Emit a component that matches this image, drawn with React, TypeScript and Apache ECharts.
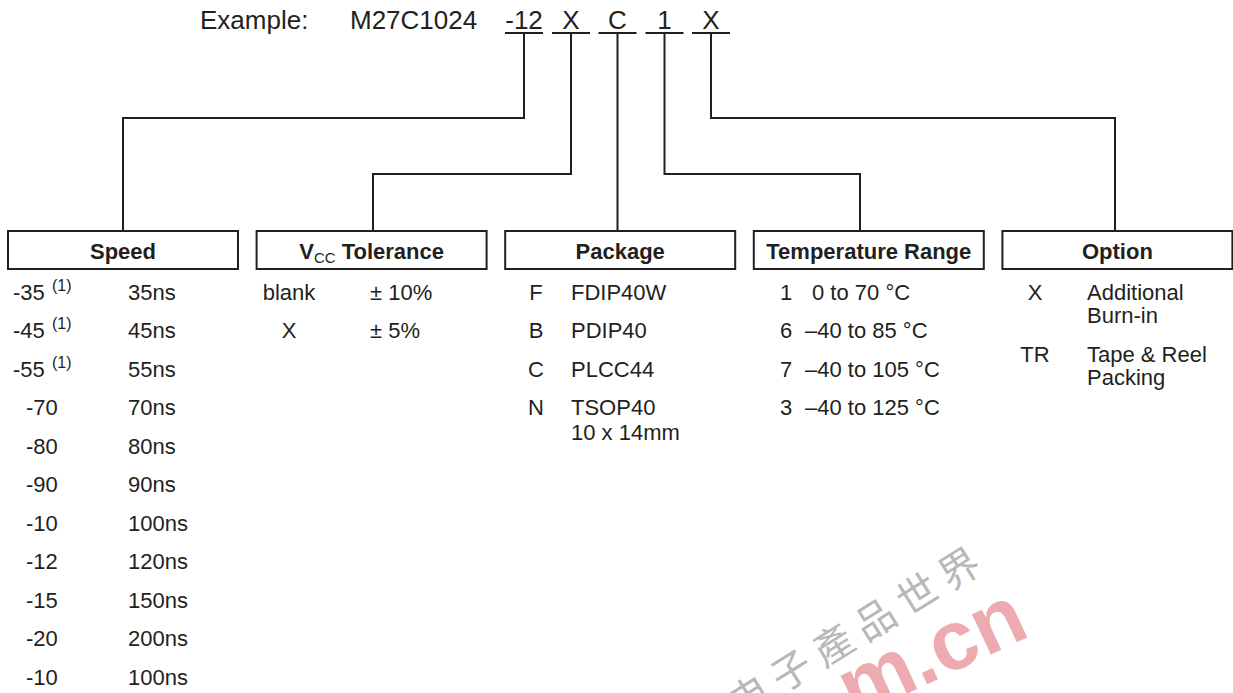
import React, { useEffect, useRef } from 'react';
import * as echarts from 'echarts';

// ---------- content ----------
const headerLabel = 'Example:';
const partNumber = 'M27C1024';
const headerCodes = ['-12', 'X', 'C', '1', 'X'];

const boxTitles = ['Speed', 'VCC Tolerance', 'Package', 'Temperature Range', 'Option'];

const speedCodes = ['-35', '-45', '-55', '-70', '-80', '-90', '-10', '-12', '-15', '-20', '-10'];
const speedNotes = ['(1)', '(1)', '(1)', '', '', '', '', '', '', '', ''];
const speedTimes = ['35ns', '45ns', '55ns', '70ns', '80ns', '90ns', '100ns', '120ns', '150ns', '200ns', '100ns'];

const vccCodes = ['blank', 'X'];
const vccValues = ['± 10%', '± 5%'];

const packageCodes = ['F', 'B', 'C', 'N'];
const packageNames = ['FDIP40W', 'PDIP40', 'PLCC44', 'TSOP40\n10 x 14mm'];

const tempCodes = ['1', '6', '7', '3'];
const tempRanges = ['0 to 70 °C', '–40 to 85 °C', '–40 to 105 °C', '–40 to 125 °C'];

const optionCodes = ['X', 'TR'];
const optionNames = ['Additional\nBurn-in', 'Tape & Reel\nPacking'];

const watermarkCJK = ['电', '子', '產', '品', '世', '界'];
const watermarkLatin = 'm.cn';

// ---------- layout ----------
const W = 1233;
const H = 693;
const INK = '#231f20';
const FONT = '"Liberation Sans", Arial, Helvetica, sans-serif';

const HEAD_Y = 20;
const HEAD_SIZE = 26;
const UNDER_Y = 33;
const codeCenters = [524, 571, 617.5, 664.5, 711];
const UNDER_W = 38;

const BOX_TOP = 231;
const BOX_H = 38;
const BOX_W = 230;
const boxLeft = (i: number) => 8 + 248.6 * i;
// where each connector lands on its box, and the y of its horizontal run
const connectorX = [123, 373, 617.5, 860, 1115];
const connectorRunY = [118, 174, null, 174, 118];

const ROW0 = 292;
const ROW_STEP = 38.5;
const rowY = (i: number) => ROW0 + ROW_STEP * i;

function txt(text: string, x: number, y: number, o: any = {}) {
  const align = o.align || 'left';
  const va = o.va || 'middle';
  return {
    type: 'text',
    x,
    y,
    rotation: o.rotation || 0,
    silent: true,
    z: o.z || 10,
    style: {
      text,
      fill: o.fill || INK,
      fontSize: o.size || 22,
      fontFamily: o.family || FONT,
      fontWeight: o.weight || 'normal',
      lineHeight: o.lineHeight,
      textAlign: align,
      textVerticalAlign: va,
      align,
      verticalAlign: va,
      opacity: o.opacity,
      rich: o.rich,
    },
  };
}

function buildElements() {
  const els: any[] = [];

  // header
  els.push(txt(headerLabel, 200, HEAD_Y, { size: HEAD_SIZE }));
  els.push(txt(partNumber, 350, HEAD_Y, { size: HEAD_SIZE }));
  headerCodes.forEach((c, i) => {
    els.push(txt(c, codeCenters[i], HEAD_Y, { size: HEAD_SIZE, align: 'center' }));
    els.push({
      type: 'line',
      silent: true,
      shape: { x1: codeCenters[i] - UNDER_W / 2, y1: UNDER_Y, x2: codeCenters[i] + UNDER_W / 2, y2: UNDER_Y },
      style: { stroke: INK, lineWidth: 2 },
    });
    const pts: number[][] = [[codeCenters[i], UNDER_Y]];
    const runY = connectorRunY[i];
    if (runY !== null) {
      pts.push([codeCenters[i], runY]);
      pts.push([connectorX[i], runY]);
    }
    pts.push([connectorX[i], BOX_TOP]);
    els.push({
      type: 'polyline',
      silent: true,
      shape: { points: pts },
      style: { stroke: INK, lineWidth: 2, fill: null, lineJoin: 'miter' },
    });
  });

  // boxes
  boxTitles.forEach((t, i) => {
    const x = boxLeft(i);
    els.push({
      type: 'rect',
      silent: true,
      shape: { x, y: BOX_TOP, width: BOX_W, height: BOX_H },
      style: { stroke: INK, lineWidth: 2, fill: 'transparent' },
    });
    const cx = x + BOX_W / 2;
    if (t.startsWith('VCC')) {
      els.push(
        txt('{b|V}{s|CC}{b| Tolerance}', cx, BOX_TOP + BOX_H / 2 + 1, {
          align: 'center',
          rich: {
            b: { fontSize: 22, fontWeight: 'bold', fontFamily: FONT, fill: INK, lineHeight: 28 },
            s: { fontSize: 15, fontFamily: FONT, fill: INK, lineHeight: 15, verticalAlign: 'bottom' },
          },
        })
      );
    } else {
      els.push(txt(t, cx, BOX_TOP + BOX_H / 2 + 1, { align: 'center', weight: 'bold' }));
    }
  });

  // speed
  speedCodes.forEach((c, i) => {
    const y = rowY(i);
    const hasNote = speedNotes[i] !== '';
    els.push(txt(c, hasNote ? 13 : 26, y));
    if (hasNote) els.push(txt(speedNotes[i], 52, y - 7, { size: 16 }));
    els.push(txt(speedTimes[i], 128, y));
  });

  // vcc
  vccCodes.forEach((c, i) => {
    els.push(txt(c, 289, rowY(i), { align: 'center' }));
    els.push(txt(vccValues[i], 370, rowY(i)));
  });

  // package
  packageCodes.forEach((c, i) => {
    els.push(txt(c, 536, rowY(i), { align: 'center' }));
    els.push(txt(packageNames[i], 571, rowY(i) - 12.5, { va: 'top', lineHeight: 25 }));
  });

  // temperature
  tempCodes.forEach((c, i) => {
    els.push(txt(c, 786, rowY(i), { align: 'center' }));
    const r = tempRanges[i];
    els.push(txt(r, r.startsWith('–') ? 805 : 812, rowY(i)));
  });

  // option
  optionCodes.forEach((c, i) => {
    const y = ROW0 + 62 * i;
    els.push(txt(c, 1035, y, { align: 'center' }));
    els.push(txt(optionNames[i], 1087, y - 11.5, { va: 'top', lineHeight: 23 }));
  });

  // watermark
  const ang = (32 * Math.PI) / 180;
  watermarkCJK.forEach((ch, i) => {
    els.push(
      txt(ch, 748 + 42 * i, 694 - 25.5 * i, {
        align: 'center',
        size: 40,
        family: '"Noto Sans CJK SC", sans-serif',
        fill: '#acacac',
        opacity: 0.85,
        rotation: ang,
        z: 1,
      })
    );
  });
  els.push(
    txt(watermarkLatin, 842, 692, {
      align: 'left',
      va: 'middle',
      size: 84,
      weight: 'bold',
      fill: '#e8959b',
      opacity: 0.8,
      rotation: (25 * Math.PI) / 180,
      z: 1,
    })
  );

  return els;
}

export default function App() {
  const ref = useRef<HTMLDivElement>(null);
  useEffect(() => {
    if (!ref.current) return;
    const chart = echarts.init(ref.current, null, { renderer: 'svg', width: W, height: H });
    chart.setOption({
      animation: false,
      backgroundColor: '#ffffff',
      graphic: { elements: buildElements() },
    });
    return () => chart.dispose();
  }, []);
  return (
    <div
      ref={ref}
      style={{ position: 'fixed', left: 0, top: 0, width: W, height: H, background: '#ffffff' }}
    />
  );
}
